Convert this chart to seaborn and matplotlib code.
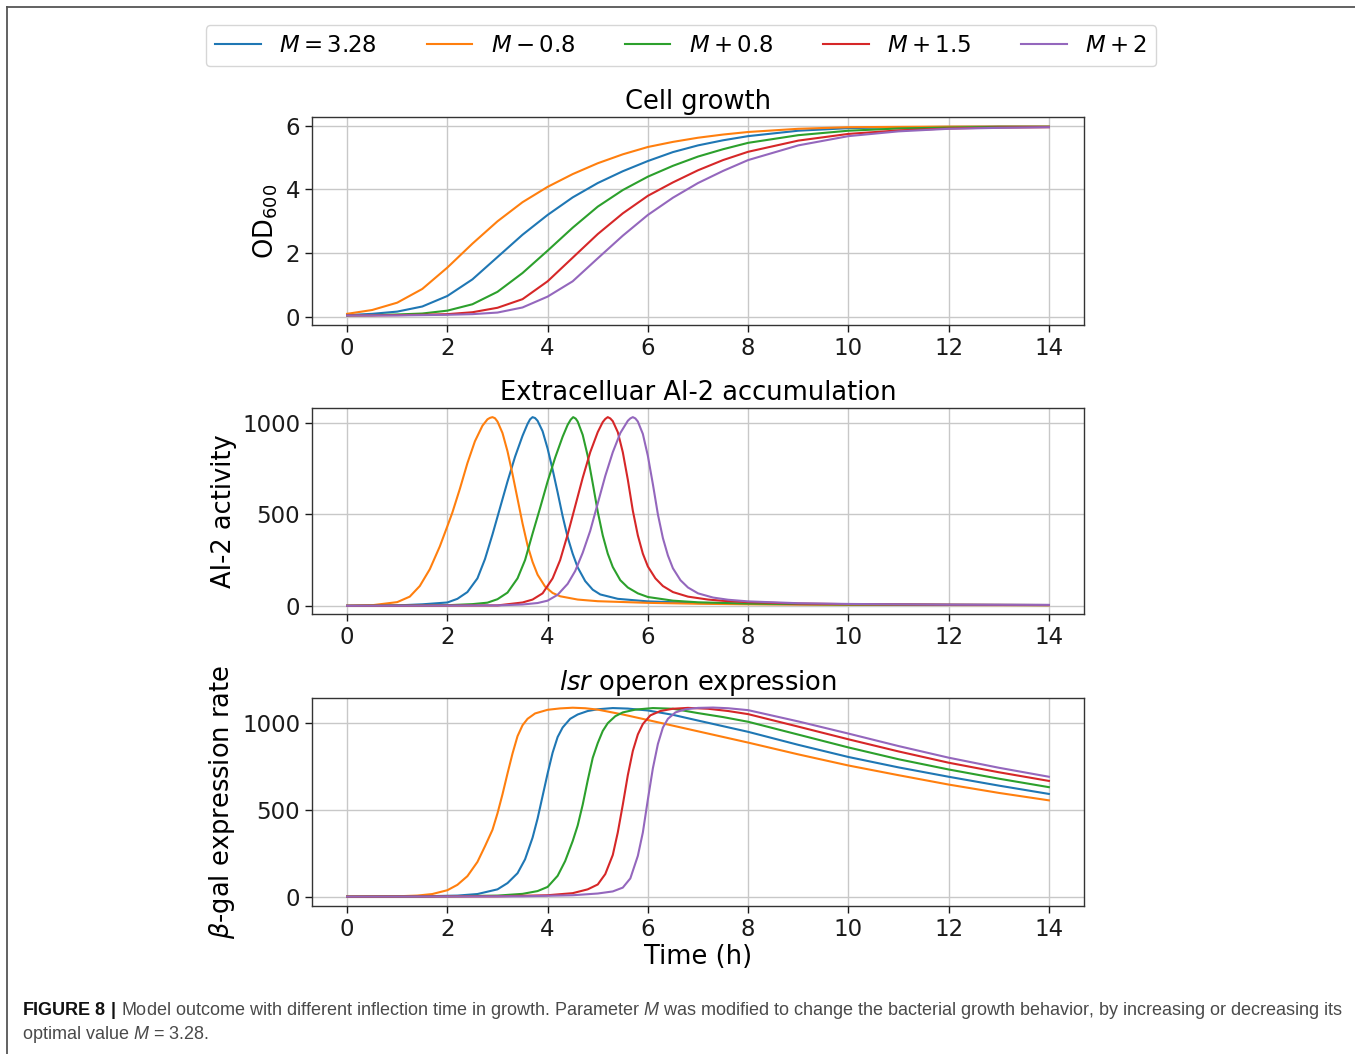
import matplotlib
matplotlib.use("Agg")
import matplotlib.pyplot as plt
import pandas as pd
import seaborn as sns
from matplotlib.lines import Line2D

W_PX, H_PX, DPI = 1355, 1054, 100

# ---------------------------------------------------------------- series
series_labels = [r"$M = 3.28$", r"$M - 0.8$", r"$M + 0.8$", r"$M + 1.5$", r"$M + 2$"]
series_colors = ["#1f77b4", "#ff7f0e", "#2ca02c", "#d62728", "#9467bd"]

# ---------------------------------------------------------------- cell growth (OD600)
od_time = [0, 0.5, 1, 1.5, 2, 2.5, 3, 3.5, 4, 4.5, 5, 5.5, 6, 6.5, 7, 7.5, 8,
           9, 10, 11, 12, 13, 14]
od_base = [0.06, 0.10, 0.17, 0.33, 0.66, 1.18, 1.88, 2.58, 3.20, 3.75, 4.20, 4.57,
           4.89, 5.17, 5.38, 5.54, 5.67, 5.84, 5.92, 5.95, 5.96, 5.97, 5.97]
od_minus08 = [0.10, 0.22, 0.45, 0.88, 1.55, 2.30, 3.00, 3.60, 4.08, 4.48, 4.82, 5.10,
              5.33, 5.49, 5.62, 5.72, 5.80, 5.90, 5.95, 5.96, 5.97, 5.97, 5.97]
od_plus08 = [0.05, 0.06, 0.08, 0.11, 0.20, 0.40, 0.79, 1.38, 2.08, 2.80, 3.46, 3.98,
             4.40, 4.74, 5.03, 5.26, 5.46, 5.70, 5.84, 5.91, 5.94, 5.96, 5.96]
od_plus15 = [0.05, 0.05, 0.06, 0.07, 0.09, 0.15, 0.29, 0.56, 1.12, 1.86, 2.60, 3.25,
             3.80, 4.22, 4.60, 4.92, 5.18, 5.53, 5.74, 5.85, 5.91, 5.94, 5.95]
od_plus2 = [0.05, 0.05, 0.05, 0.06, 0.07, 0.09, 0.14, 0.30, 0.64, 1.12, 1.84, 2.55,
            3.20, 3.74, 4.20, 4.58, 4.92, 5.38, 5.67, 5.82, 5.90, 5.93, 5.95]

# ---------------------------------------------------------------- extracellular AI-2
ai2_t_base = [0, 1.0, 1.5, 2.0, 2.2, 2.4, 2.6, 2.75, 2.9, 3.05, 3.2, 3.35, 3.5, 3.6,
              3.65, 3.7, 3.75, 3.8, 3.9, 4.0, 4.1, 4.2, 4.3, 4.4, 4.5, 4.6, 4.75,
              4.9, 5.05, 5.4, 6.0, 7.0, 8.0, 10, 12, 14]
ai2_base = [0, 2, 8, 18, 38, 75, 150, 255, 390, 535, 680, 815, 930, 995,
            1020, 1032, 1027, 1012, 955, 860, 745, 620, 490, 375, 285, 210, 135,
            88, 62, 38, 24, 15, 10, 6, 5, 4]

ai2_t_minus08 = [0, 0.5, 1.0, 1.25, 1.45, 1.65, 1.85, 2.0, 2.1, 2.25, 2.4, 2.55, 2.7,
                 2.8, 2.85, 2.9, 2.95, 3.0, 3.1, 3.2, 3.3, 3.4, 3.5, 3.6, 3.7, 3.8,
                 3.95, 4.1, 4.25, 4.6, 5.0, 6.0, 7.0, 8.0, 10, 12, 14]
ai2_minus08 = [0, 3, 20, 50, 108, 200, 325, 435, 510, 640, 780, 900, 985,
               1020, 1028, 1032, 1026, 1008, 945, 845, 720, 585, 450, 330, 240, 170,
               105, 70, 52, 34, 25, 16, 11, 8, 5, 4, 3]

ai2_t_plus08 = [0, 2.0, 2.5, 2.8, 3.0, 3.2, 3.4, 3.55, 3.7, 3.85, 4.0, 4.15, 4.3, 4.4,
                4.46, 4.51, 4.56, 4.6, 4.7, 4.8, 4.9, 5.0, 5.1, 5.2, 5.3, 5.45, 5.6,
                5.8, 6.0, 6.5, 7.0, 8.0, 10, 12, 14]
ai2_plus08 = [0, 3, 9, 17, 36, 72, 150, 250, 395, 535, 680, 810, 925, 990,
              1018, 1032, 1024, 1008, 935, 820, 670, 515, 385, 285, 212, 140, 100,
              68, 48, 28, 19, 12, 7, 5, 4]

ai2_t_plus15 = [0, 3.0, 3.5, 3.7, 3.9, 4.1, 4.25, 4.4, 4.55, 4.7, 4.85, 5.0, 5.1, 5.15,
                5.2, 5.25, 5.3, 5.4, 5.5, 5.6, 5.7, 5.8, 5.9, 6.0, 6.15, 6.3, 6.5,
                6.8, 7.2, 7.5, 8.0, 9.0, 10, 12, 14]
ai2_plus15 = [0, 2, 18, 34, 68, 150, 250, 390, 545, 700, 840, 950, 1005, 1022,
              1032, 1025, 1010, 950, 840, 690, 520, 385, 285, 215, 150, 108, 75,
              50, 34, 27, 20, 12, 9, 6, 4]

ai2_t_plus2 = [0, 3.0, 3.5, 3.8, 4.0, 4.2, 4.4, 4.55, 4.7, 4.85, 5.0, 5.15, 5.3, 5.45,
               5.6, 5.65, 5.7, 5.75, 5.8, 5.9, 6.0, 6.1, 6.2, 6.3, 6.4, 6.5, 6.65,
               6.8, 7.0, 7.3, 7.6, 8.0, 9.0, 10, 12, 14]
ai2_plus2 = [0, 2, 7, 15, 28, 60, 120, 190, 290, 410, 560, 710, 840, 945,
             1012, 1025, 1032, 1025, 1008, 940, 820, 665, 500, 370, 275, 205, 140,
             100, 68, 45, 33, 24, 14, 10, 6, 5]

# ---------------------------------------------------------------- lsr operon expression
bgal_t_base = [0, 1.5, 2.2, 2.6, 3.0, 3.2, 3.4, 3.55, 3.7, 3.8, 3.9, 4.0, 4.1, 4.2,
               4.3, 4.45, 4.6, 4.8, 5.0, 5.3, 5.6, 6.0, 6.5, 7.0, 8.0, 9.0, 10, 11,
               12, 13, 14]
bgal_base = [0, 2, 6, 15, 42, 78, 135, 215, 340, 450, 580, 710, 830, 920,
             975, 1025, 1050, 1070, 1080, 1087, 1084, 1073, 1048, 1015, 950, 875, 805,
             745, 691, 640, 592]

bgal_t_minus08 = [0, 1.0, 1.4, 1.7, 2.0, 2.2, 2.4, 2.6, 2.75, 2.9, 3.0, 3.1, 3.2, 3.3,
                  3.4, 3.5, 3.6, 3.75, 4.0, 4.25, 4.5, 4.75, 5.0, 5.5, 6.0, 7.0, 8.0,
                  9.0, 10, 11, 12, 13, 14]
bgal_minus08 = [0, 2, 6, 15, 37, 68, 118, 200, 290, 385, 480, 590, 710, 825,
                925, 988, 1025, 1056, 1077, 1085, 1089, 1086, 1078, 1050, 1018, 953, 888,
                820, 756, 700, 646, 598, 555]

bgal_t_plus08 = [0, 2.0, 3.0, 3.5, 3.8, 4.0, 4.2, 4.35, 4.5, 4.6, 4.7, 4.8, 4.9, 5.0,
                 5.1, 5.2, 5.35, 5.5, 5.75, 6.1, 6.5, 7.0, 7.5, 8.0, 9.0, 10, 11, 12,
                 13, 14]
bgal_plus08 = [0, 2, 6, 16, 32, 56, 120, 205, 320, 410, 530, 670, 800, 885,
               955, 1000, 1040, 1062, 1078, 1087, 1083, 1058, 1035, 1008, 934, 860, 792,
               733, 680, 631]

bgal_t_plus15 = [0, 3.0, 4.0, 4.5, 4.8, 5.0, 5.15, 5.3, 5.4, 5.5, 5.6, 5.7, 5.8, 5.9,
                 6.05, 6.25, 6.5, 6.8, 7.2, 7.6, 8.0, 9.0, 10, 11, 12, 13, 14]
bgal_plus15 = [0, 2, 8, 20, 42, 70, 130, 240, 370, 530, 700, 840, 935, 995,
               1045, 1070, 1083, 1088, 1083, 1070, 1052, 980, 907, 837, 772, 717, 667]

bgal_t_plus2 = [0, 3.5, 4.5, 5.0, 5.3, 5.5, 5.65, 5.8, 5.9, 6.0, 6.1, 6.2, 6.3, 6.4,
                6.55, 6.75, 7.0, 7.3, 7.6, 8.0, 9.0, 10, 11, 12, 13, 14]
bgal_plus2 = [0, 2, 8, 18, 30, 52, 105, 235, 370, 560, 740, 880, 975, 1025,
              1062, 1080, 1088, 1090, 1086, 1075, 1010, 940, 868, 801, 743, 691]

# ---------------------------------------------------------------- text
panel_titles = ["Cell growth", "Extracelluar AI-2 accumulation",
                r"$\mathit{lsr}$ operon expression"]
panel_ylabels = [r"OD$_{600}$", "AI-2 activity", r"$\beta$-gal expression rate"]
x_label = "Time (h)"
x_ticks = [0, 2, 4, 6, 8, 10, 12, 14]
y_ticks = [[0, 2, 4, 6], [0, 500, 1000], [0, 500, 1000]]
caption_head = r"$\mathbf{FIGURE\ 8\ |}$"
caption_rest1 = (r"Model outcome with different inflection time in "
                 r"growth. Parameter $M$ was modified to change the bacterial growth "
                 r"behavior, by increasing or decreasing its")
caption_line2 = r"optimal value $M$ = 3.28."


def long_frame(curves):
    parts = []
    for label, (t, v) in zip(series_labels, curves):
        parts.append(pd.DataFrame({"time": t, "value": v, "series": label}))
    return pd.concat(parts, ignore_index=True)


panels = [
    long_frame([(od_time, od_base), (od_time, od_minus08), (od_time, od_plus08),
                (od_time, od_plus15), (od_time, od_plus2)]),
    long_frame([(ai2_t_base, ai2_base), (ai2_t_minus08, ai2_minus08),
                (ai2_t_plus08, ai2_plus08), (ai2_t_plus15, ai2_plus15),
                (ai2_t_plus2, ai2_plus2)]),
    long_frame([(bgal_t_base, bgal_base), (bgal_t_minus08, bgal_minus08),
                (bgal_t_plus08, bgal_plus08), (bgal_t_plus15, bgal_plus15),
                (bgal_t_plus2, bgal_plus2)]),
]

plt.rcParams["mathtext.rm"] = "Liberation Sans"
plt.rcParams["mathtext.it"] = "Liberation Sans:italic"
plt.rcParams["mathtext.bf"] = "Liberation Sans:bold"

fig = plt.figure(figsize=(W_PX / DPI, H_PX / DPI), dpi=DPI)
fig.patch.set_facecolor("white")

# axes boxes in pixel rows (top, bottom)
rows = [(117, 325), (408, 614), (698, 906)]
y_limits = [(-0.25, 6.27), (-45, 1082), (-54, 1145)]
left_px, right_px = 312, 1084
palette = dict(zip(series_labels, series_colors))

for i, (top, bottom) in enumerate(rows):
    ax = fig.add_axes([left_px / W_PX, 1 - bottom / H_PX,
                       (right_px - left_px) / W_PX, (bottom - top) / H_PX])
    sns.lineplot(data=panels[i], x="time", y="value", hue="series",
                 hue_order=series_labels, palette=palette, estimator=None,
                 sort=False, linewidth=1.5, legend=False, ax=ax)
    ax.set_xlim(-0.7, 14.7)
    ax.set_ylim(*y_limits[i])
    ax.set_xticks(x_ticks)
    ax.set_yticks(y_ticks[i])
    ax.grid(True, color="#c8c8c8", linewidth=1.0)
    ax.set_axisbelow(True)
    ax.tick_params(labelsize=16.5, length=5, width=1.0, colors="#1a1a1a")
    for s in ax.spines.values():
        s.set_color("#333333")
        s.set_linewidth(1.0)
    ax.set_title(panel_titles[i], fontsize=18.5, pad=6)
    ax.set_ylabel(panel_ylabels[i], fontsize=18.5)
    ax.set_xlabel(x_label if i == 2 else "", fontsize=18.5, labelpad=2)

handles = [Line2D([], [], color=c, linewidth=1.5) for c in series_colors]
fig.legend(handles, series_labels, loc="upper center",
           bbox_to_anchor=(681 / W_PX, 1 - 25 / H_PX), ncol=5, fontsize=16.5,
           borderaxespad=0, frameon=True, handlelength=2.0, columnspacing=2.18)

# frame around the figure panel
fig.add_artist(Line2D([7 / W_PX, 1], [1 - 7 / H_PX, 1 - 7 / H_PX],
                      transform=fig.transFigure, color="#555555", linewidth=1.3))
fig.add_artist(Line2D([7 / W_PX, 7 / W_PX], [0, 1 - 7 / H_PX],
                      transform=fig.transFigure, color="#555555", linewidth=1.3))

# caption: bold lead-in followed by the running text, sized to fill the column
cap_kw = dict(family="Liberation Sans", math_fontfamily="custom",
              ha="left", va="baseline")
renderer = fig.canvas.get_renderer()
probe = fig.text(0, 0, caption_head + " " + caption_rest1, fontsize=13, **cap_kw)
size = 13 * (1342 - 22) / probe.get_window_extent(renderer).width
probe.remove()

head = fig.text(22 / W_PX, 1 - 1015 / H_PX, caption_head, fontsize=size,
                color="#111111", **cap_kw)
head_right = head.get_window_extent(renderer).x1
space_px = 0.278 * size * DPI / 72
fig.text((head_right + space_px) / W_PX, 1 - 1015 / H_PX, caption_rest1,
         fontsize=size, color="#4a4a4a", **cap_kw)
fig.text(22 / W_PX, 1 - 1039 / H_PX, caption_line2, fontsize=size,
         color="#4a4a4a", **cap_kw)

fig.savefig("out.png", dpi=DPI)
